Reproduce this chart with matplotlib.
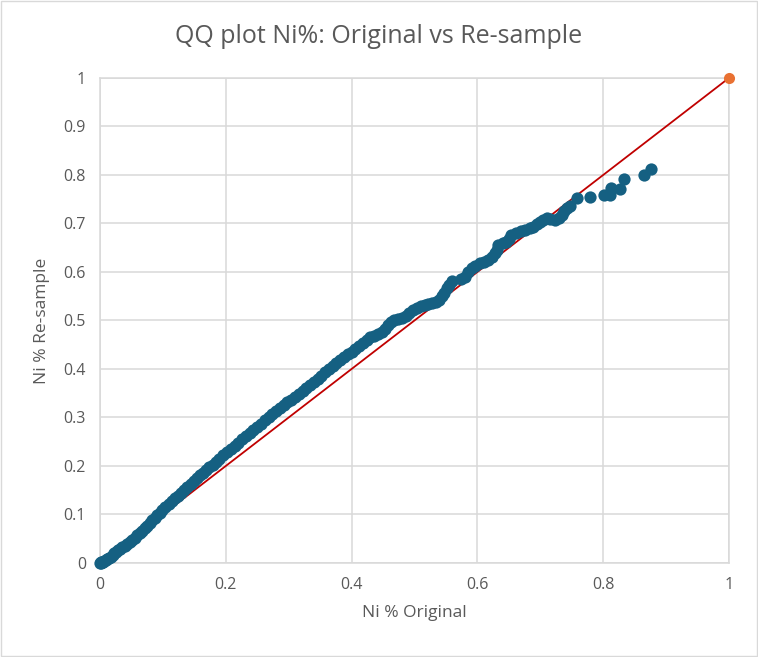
import matplotlib.pyplot as plt
from matplotlib.patches import Rectangle

# quantiles (Original, Re-sample)
ni_original = [
    0.000, 0.001, 0.002, 0.003, 0.005, 0.007, 0.009, 0.011, 0.014, 0.017,
    0.020, 0.023, 0.026, 0.029, 0.032, 0.035, 0.039, 0.043, 0.047, 0.051,
    0.055, 0.059, 0.063, 0.067, 0.071, 0.075, 0.079, 0.083, 0.087, 0.091,
    0.095, 0.099, 0.104, 0.109, 0.114, 0.119, 0.124, 0.129, 0.134, 0.139,
    0.144, 0.149, 0.154, 0.159, 0.164, 0.169, 0.174, 0.179, 0.184, 0.190,
    0.196, 0.202, 0.208, 0.214, 0.220, 0.226, 0.232, 0.238, 0.244, 0.250,
    0.256, 0.262, 0.268, 0.274, 0.280, 0.286, 0.292, 0.298, 0.304, 0.310,
    0.316, 0.322, 0.328, 0.334, 0.340, 0.346, 0.352, 0.358, 0.364, 0.370,
    0.376, 0.382, 0.388, 0.394, 0.400, 0.406, 0.412, 0.418, 0.424, 0.430,
    0.436, 0.442, 0.448, 0.453, 0.458, 0.463, 0.468, 0.474, 0.480, 0.486,
    0.492, 0.498, 0.504, 0.510, 0.516, 0.522, 0.528, 0.534, 0.539, 0.543,
    0.547, 0.551, 0.555, 0.559,
    0.574, 0.580, 0.585, 0.591, 0.597, 0.604, 0.610, 0.617, 0.623, 0.628,
    0.631, 0.633, 0.640, 0.646, 0.650, 0.654, 0.662, 0.669, 0.676, 0.683,
    0.689, 0.695, 0.700, 0.705, 0.710, 0.716, 0.723, 0.729, 0.734, 0.738,
    0.742, 0.747, 0.758, 0.779, 0.801, 0.811, 0.813, 0.827, 0.833, 0.865,
    0.876,
]
ni_resample = [
    0.000, 0.000, 0.001, 0.002, 0.003, 0.004, 0.006, 0.008, 0.010, 0.013,
    0.017, 0.020, 0.023, 0.026, 0.029, 0.032, 0.035, 0.039, 0.043, 0.048,
    0.052, 0.057, 0.062, 0.066, 0.072, 0.077, 0.083, 0.088, 0.093, 0.098,
    0.104, 0.109, 0.116, 0.122, 0.128, 0.134, 0.139, 0.145, 0.151, 0.157,
    0.163, 0.169, 0.175, 0.181, 0.186, 0.192, 0.197, 0.203, 0.208, 0.215,
    0.222, 0.229, 0.235, 0.242, 0.248, 0.255, 0.261, 0.268, 0.274, 0.281,
    0.287, 0.294, 0.300, 0.307, 0.313, 0.320, 0.326, 0.332, 0.337, 0.343,
    0.349, 0.355, 0.361, 0.367, 0.373, 0.380, 0.386, 0.393, 0.400, 0.406,
    0.413, 0.419, 0.425, 0.431, 0.436, 0.442, 0.448, 0.454, 0.460, 0.465,
    0.469, 0.473, 0.477, 0.483, 0.490, 0.496, 0.500, 0.503, 0.506, 0.510,
    0.515, 0.521, 0.526, 0.530, 0.532, 0.534, 0.536, 0.539, 0.543, 0.550,
    0.557, 0.566, 0.574, 0.582,
    0.586, 0.590, 0.600, 0.608, 0.613, 0.618, 0.621, 0.625, 0.631, 0.639,
    0.646, 0.656, 0.659, 0.662, 0.669, 0.676, 0.680, 0.684, 0.687, 0.690,
    0.693, 0.699, 0.704, 0.708, 0.711, 0.709, 0.707, 0.712, 0.718, 0.725,
    0.731, 0.737, 0.752, 0.755, 0.759, 0.759, 0.773, 0.771, 0.791, 0.799,
    0.812,
]
# y = x reference line and its end marker
ref_x = [0, 1]
ref_y = [0, 1]
end_x = [1]
end_y = [1]

title = 'QQ plot Ni%: Original vs Re-sample'
x_label = 'Ni % Original'
y_label = 'Ni % Re-sample'
x_ticks = [0, 0.2, 0.4, 0.6, 0.8, 1]
y_ticks = [0, 0.1, 0.2, 0.3, 0.4, 0.5, 0.6, 0.7, 0.8, 0.9, 1]

text_col = '#595959'
grid_col = '#D9D9D9'

plt.rcParams['font.family'] = ['Open Sans', 'DejaVu Sans']

fig = plt.figure(figsize=(7.58, 6.57), dpi=100)
fig.patches.append(Rectangle((0.001, 0.001), 0.998, 0.998, transform=fig.transFigure,
                             fill=False, edgecolor=grid_col, linewidth=1.0))
ax = fig.add_axes([0.1319, 0.1431, 0.8298, 0.7382])

ax.plot(ref_x, ref_y, color='#C00000', linewidth=1.3, zorder=2)
ax.scatter(ni_original, ni_resample, s=78, color='#156082', linewidths=0, zorder=3, clip_on=False)
ax.scatter(end_x, end_y, s=64, color='#E97132', linewidths=0, zorder=4, clip_on=False)

ax.set_xlim(0, 1)
ax.set_ylim(0, 1)
ax.set_xticks(x_ticks)
ax.set_xticklabels(['0', '0.2', '0.4', '0.6', '0.8', '1'])
ax.set_yticks(y_ticks)
ax.set_yticklabels(['0', '0.1', '0.2', '0.3', '0.4', '0.5', '0.6', '0.7', '0.8', '0.9', '1'])
ax.tick_params(length=0, labelsize=11.5, labelcolor=text_col, pad=10)
ax.grid(True, color=grid_col, linewidth=1.1, zorder=0)
ax.set_axisbelow(True)
for s in ax.spines.values():
    s.set_color(grid_col)
    s.set_linewidth(1.1)

ax.set_xlabel(x_label, fontsize=12.5, color=text_col, labelpad=9)
ax.set_ylabel(y_label, fontsize=12.5, color=text_col, labelpad=10)
fig.text(0.5, 0.945, title, ha='center', va='center', fontsize=18, color=text_col)

fig.savefig('out.png', dpi=100)
